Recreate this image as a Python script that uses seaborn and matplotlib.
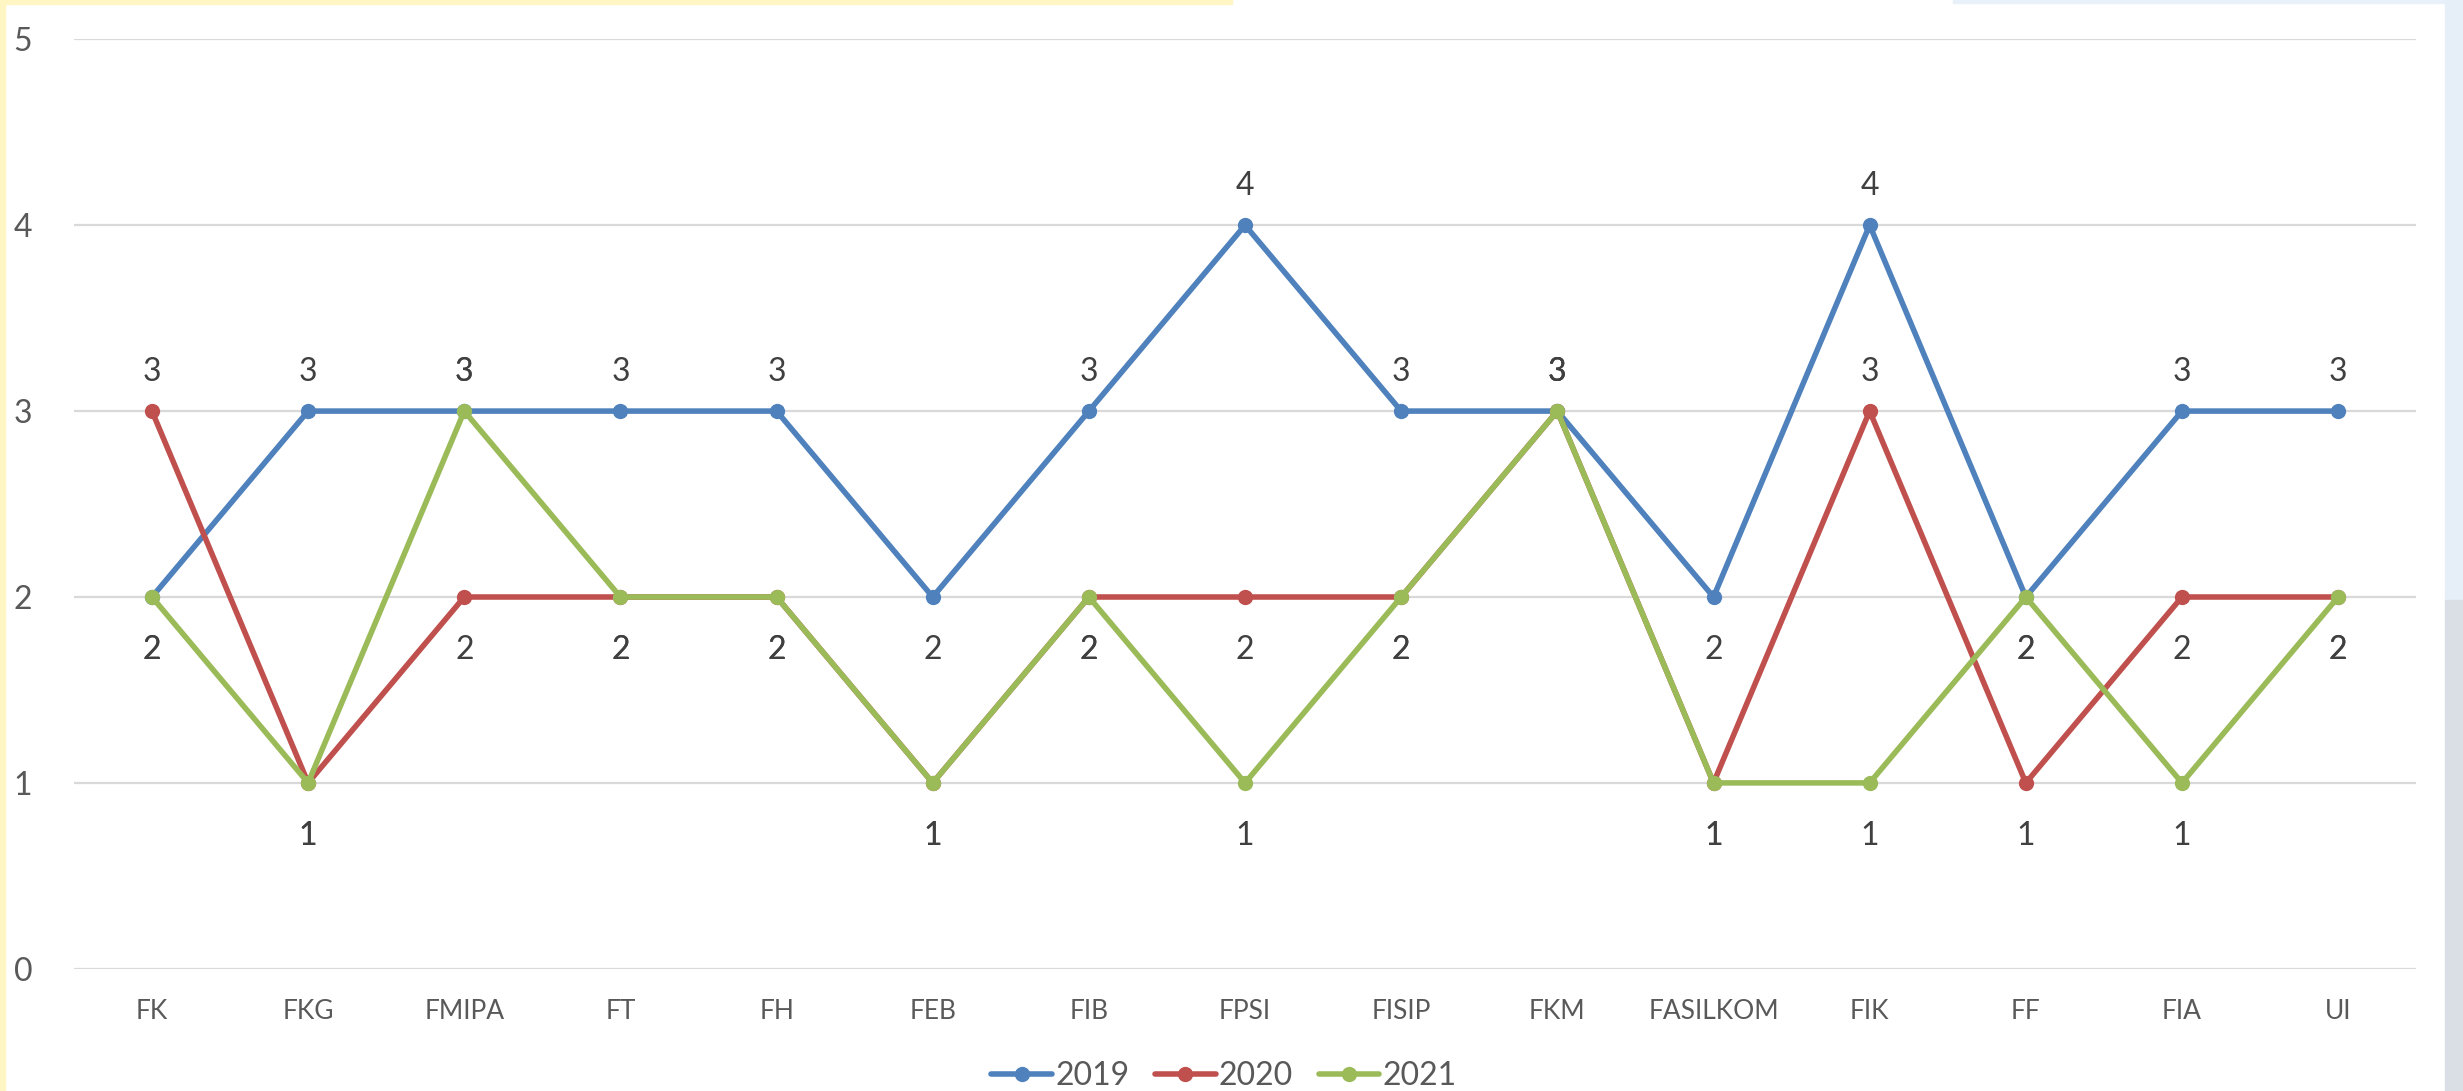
import pandas as pd
import matplotlib.pyplot as plt
import seaborn as sns

# Chart data
faculties = ['FK', 'FKG', 'FMIPA', 'FT', 'FH', 'FEB', 'FIB', 'FPSI', 'FISIP',
             'FKM', 'FASILKOM', 'FIK', 'FF', 'FIA', 'UI']
years = ['2019', '2020', '2021']
val_2019 = [2, 3, 3, 3, 3, 2, 3, 4, 3, 3, 2, 4, 2, 3, 3]
val_2020 = [3, 1, 2, 2, 2, 1, 2, 2, 2, 3, 1, 3, 1, 2, 2]
val_2021 = [2, 1, 3, 2, 2, 1, 2, 1, 2, 3, 1, 1, 2, 1, 2]
y_ticks = [0, 1, 2, 3, 4, 5]

colors = ['#4F81BD', '#C0504D', '#9BBB59']

# Build long-form table for seaborn
df = pd.DataFrame({
    'Fakultas': faculties * 3,
    'Tahun': [y for y in years for _ in faculties],
    'Nilai': val_2019 + val_2020 + val_2021,
})

sns.set_style('white')
plt.rcParams['font.family'] = ['Lato', 'DejaVu Sans']

fig = plt.figure(figsize=(24.63, 10.91), dpi=100)
ax = fig.add_axes([0.030, 0.112, 0.951, 0.852])

sns.lineplot(data=df, x='Fakultas', y='Nilai', hue='Tahun', palette=colors,
             marker='o', markersize=11, markeredgewidth=0, linewidth=4,
             sort=False, ax=ax)

# Data labels: above for high values, below for low values
for series in (val_2019, val_2020, val_2021):
    for fac, v in zip(faculties, series):
        off = 28 if v >= 3 else -38
        ax.annotate(str(v), (fac, v), xytext=(0, off), textcoords='offset points',
                    ha='center', va='center', fontsize=23, color='#404040')

ax.set_xlim(-0.5, len(faculties) - 0.5)
ax.set_ylim(0, 5)
ax.set_yticks(y_ticks)
ax.yaxis.grid(True, color='#D9D9D9', linewidth=1.6)
ax.set_axisbelow(True)
ax.tick_params(axis='y', labelsize=23, colors='#595959', length=0, pad=30)
ax.tick_params(axis='x', labelsize=19, colors='#595959', length=0, pad=22)
ax.set_xlabel('')
ax.set_ylabel('')
sns.despine(ax=ax, left=True, bottom=True)

ax.legend(loc='center', bbox_to_anchor=(0.497, 0.014), bbox_transform=fig.transFigure,
          ncol=3, frameon=False, fontsize=23, handlelength=1.9, handletextpad=0.1,
          columnspacing=0.8, labelcolor='#595959')

# faint screenshot border (yellow left/top, pale blue on the right)
fig.patches.append(plt.Rectangle((0, 0), 0.002, 1, transform=fig.transFigure,
                                 color='#FFF6C4', zorder=0))
fig.patches.append(plt.Rectangle((0, 0.996), 0.5, 0.004, transform=fig.transFigure,
                                 color='#FFF6C4', zorder=0))
fig.patches.append(plt.Rectangle((0.793, 0.997), 0.207, 0.003, transform=fig.transFigure,
                                 color='#E8F0FA', zorder=0))
fig.patches.append(plt.Rectangle((0.9925, 0.45), 0.0075, 0.55, transform=fig.transFigure,
                                 color='#E6EEF8', zorder=0))
fig.patches.append(plt.Rectangle((0.9925, 0), 0.0075, 0.45, transform=fig.transFigure,
                                 color='#D9DFE4', zorder=0))

fig.savefig('out.png', dpi=100)
